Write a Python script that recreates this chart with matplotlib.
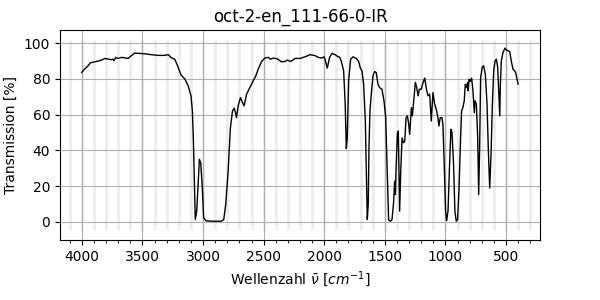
import numpy as np
import matplotlib
matplotlib.use("Agg")
import matplotlib.pyplot as plt
from matplotlib.ticker import MultipleLocator

title = "oct-2-en_111-66-0-IR"

# Wellenzahl [cm^-1] und Transmission [%]
wavenumber = [
    4000, 3978, 3956, 3928, 3895, 3854, 3807, 3757, 3743, 3735, 3721, 3702, 3669, 3619,
    3591, 3564, 3522, 3481, 3425, 3370, 3320, 3287, 3265, 3232, 3210, 3182, 3149, 3122,
    3099, 3088, 3080, 3072, 3064, 3052, 3039, 3030, 3019, 3006, 2995, 2975, 2918, 2849,
    2829, 2813, 2793, 2774, 2757, 2743, 2732, 2724, 2710, 2691, 2674, 2661, 2641, 2614,
    2586, 2564, 2545, 2517, 2490, 2462, 2443, 2421, 2388, 2352, 2324, 2305, 2277, 2241,
    2200, 2159, 2117, 2076, 2049, 2021, 2002, 1994, 1975, 1956, 1936, 1909, 1892, 1873,
    1860, 1840, 1827, 1818, 1810, 1799, 1782, 1763, 1736, 1716, 1702, 1689, 1675, 1661,
    1653, 1645, 1637, 1631, 1623, 1612, 1598, 1584, 1571, 1557, 1543, 1524, 1507, 1493,
    1480, 1469, 1455, 1441, 1427, 1419, 1413, 1408, 1397, 1389, 1383, 1378, 1369, 1358,
    1347, 1336, 1325, 1314, 1303, 1295, 1281, 1273, 1259, 1248, 1237, 1226, 1215, 1199,
    1185, 1171, 1157, 1144, 1130, 1117, 1103, 1089, 1076, 1062, 1054, 1043, 1029, 1021,
    1010, 999, 990, 979, 966, 955, 946, 933, 922, 911, 900, 889, 875, 867,
    856, 845, 836, 828, 817, 812, 806, 795, 784, 773, 762, 756, 745, 734,
    726, 718, 710, 696, 685, 671, 657, 646, 635, 624, 613, 602, 591, 580,
    569, 561, 552, 547, 539, 525, 509, 498, 484, 470, 457, 443, 435, 421,
    410, 401,
]
transmission = [
    83.6, 85.4, 86.7, 89.0, 89.5, 90.1, 91.4, 90.7, 91.0, 90.1, 92.0, 91.4, 92.0, 91.4,
    92.9, 94.4, 94.2, 94.0, 93.5, 93.1, 93.1, 93.5, 92.0, 90.8, 87.3, 82.2, 79.8, 76.0,
    70.5, 62.0, 47.0, 24.7, 1.3, 6.0, 22.8, 35.0, 33.0, 19.0, 2.2, 0.6, 0.4, 0.4,
    1.3, 9.7, 28.4, 52.7, 62.0, 63.6, 61.0, 58.3, 64.9, 69.5, 66.7, 64.9, 71.4, 75.1,
    78.9, 81.7, 85.4, 89.7, 91.6, 92.0, 91.0, 91.6, 91.2, 89.5, 89.7, 90.5, 89.7, 91.4,
    91.4, 92.3, 93.5, 93.0, 92.0, 91.6, 92.3, 91.0, 86.0, 92.0, 94.2, 93.5, 92.6, 92.0,
    90.0, 84.5, 65.8, 41.0, 47.0, 78.9, 91.0, 92.3, 91.4, 89.7, 86.0, 84.5, 77.0, 56.4,
    28.4, 1.3, 9.7, 41.5, 62.0, 71.4, 81.7, 84.1, 83.5, 77.0, 75.1, 74.2, 67.7, 58.3,
    28.4, 1.3, 0.4, 1.3, 11.6, 22.8, 15.3, 28.4, 49.0, 50.8, 24.7, 6.0, 28.4, 47.0,
    44.3, 45.0, 58.3, 59.3, 54.6, 49.0, 63.9, 59.3, 69.5, 78.0, 75.1, 70.5, 74.2, 74.2,
    78.0, 80.4, 74.2, 70.5, 71.4, 56.4, 72.3, 65.8, 63.0, 58.3, 53.6, 58.3, 58.3, 54.6,
    32.0, 6.0, 0.7, 6.0, 32.0, 51.8, 50.0, 32.0, 6.0, 0.4, 1.3, 17.0, 47.0, 62.0,
    64.0, 67.7, 77.0, 75.1, 78.0, 73.3, 79.8, 78.5, 80.4, 73.3, 61.0, 67.7, 65.8, 47.0,
    15.3, 41.5, 80.7, 86.7, 87.3, 82.6, 65.8, 39.6, 19.0, 37.8, 65.8, 84.5, 90.0, 91.0,
    86.4, 73.3, 59.3, 77.0, 90.0, 94.8, 97.2, 96.1, 95.7, 95.3, 90.0, 85.4, 84.9, 83.6,
    79.8, 77.0,
]

# helle Hilfslinien alle 100 cm^-1
guide_x = np.arange(300, 4101, 100)

fig = plt.figure(figsize=(6, 3), dpi=100)
ax = fig.add_axes([0.1, 0.2, 0.8, 0.7])

ax.vlines(guide_x, -4.3, 101.8, color="#ededed", linewidth=2, zorder=0)
ax.plot(wavenumber, transmission, color="black", linewidth=1.0, zorder=3)

ax.set_xlim(4180, 220)
ax.set_ylim(-10.1, 107.3)
ax.xaxis.set_major_locator(MultipleLocator(500))
ax.xaxis.set_minor_locator(MultipleLocator(100))
ax.yaxis.set_major_locator(MultipleLocator(20))
ax.grid(True, which="major", color="#b0b0b0", linewidth=0.8, zorder=1)
ax.set_axisbelow(True)

ax.set_title(title)
ax.set_xlabel(r"Wellenzahl $\bar{\nu}$ [$cm^{-1}$]")
ax.set_ylabel("Transmission [%]")

plt.savefig("out.png")
